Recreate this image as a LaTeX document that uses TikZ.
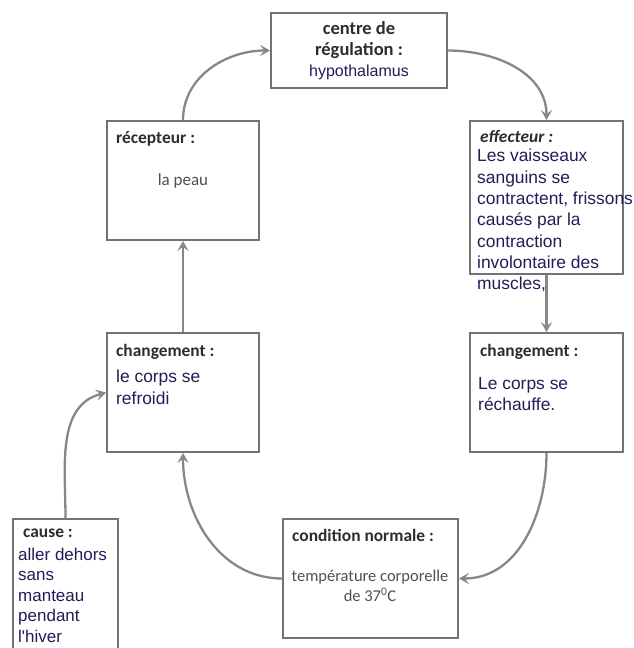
\documentclass[tikz,border=0pt]{standalone}
\usepackage{fontspec}
\setmainfont{Carlito}
\newfontfamily\arialfont{Liberation Sans}
\usetikzlibrary{positioning,arrows.meta}
\definecolor{boxgray}{RGB}{115,115,115}
\definecolor{arrowgray}{RGB}{135,135,135}
\definecolor{headgray}{RGB}{45,45,45}
\definecolor{navy}{RGB}{32,30,88}
\definecolor{notegray}{RGB}{80,80,80}

\tikzset{
  box/.style={draw=boxgray, line width=1.8pt, rectangle, inner sep=0pt, fill=white},
  arr/.style={draw=arrowgray, line width=2.3pt, -{Stealth[length=10pt,width=11pt,inset=4pt]}},
  head/.style={font=\fontsize{17.4}{20}\selectfont\bfseries, text=headgray, inner sep=0pt, anchor=north west},
  body/.style={font=\arialfont\fontsize{17.4}{21.3}\selectfont, text=navy, inner sep=0pt, anchor=north west, align=left},
  note/.style={font=\fontsize{17}{20}\selectfont, text=notegray, inner sep=0pt, align=center},
}

\begin{document}
\begin{tikzpicture}[x=1pt, y=1pt]
    \useasboundingbox (0,0) rectangle (634,-648);
    \clip (0,0) rectangle (634,-648);
    % boxes
    \node[box, minimum width=176pt, minimum height=75pt] (centre) at (359,-50.5) {};
    \node[box, minimum width=152pt, minimum height=119pt] (recep) at (183,-180.5) {};
    \node[box, minimum width=153pt, minimum height=153pt] (effect) at (546.5,-197.5) {};
    \node[box, minimum width=153pt, minimum height=119pt] (chgR) at (546.5,-392.5) {};
    \node[box, minimum width=152pt, minimum height=119pt] (chgL) at (183,-392.5) {};
    \node[box, minimum width=175pt, minimum height=119pt] (cond) at (370.5,-578.5) {};
    \node[box, minimum width=105pt, minimum height=141pt] (cause) at (65.5,-589.5) {};
    % arrows
    \draw[arr] (recep.north) to[out=90, in=180] (centre.west);
    \draw[arr] (centre.east) to[out=0, in=90] (effect.north);
    \draw[arr] (effect.south) -- (chgR.north);
    \draw[arr] (chgR.south) to[out=-90, in=0] (cond.east);
    \draw[arr] (cond.west) to[out=180, in=-90] (chgL.south);
    \draw[arr] (chgL.north) -- (recep.south);
    \draw[arr] (cause.north) to[out=90, in=195] (chgL.west);
    % texts
    \node[note, font=\fontsize{18.5}{21}\selectfont] (centre-txt) at (359,-51) {{\bfseries\color{headgray}centre de}\\{\bfseries\color{headgray}régulation :}\\{\arialfont\fontsize{16}{21}\selectfont\color{navy}hypothalamus}};
    \node[head] (recep-head) at (116,-131) {récepteur :};
    \node[note] (recep-txt) at (183,-181) {la peau};
    \node[head, font=\fontsize{17.4}{20}\selectfont\bfseries\itshape] (effect-head) at (480,-130) {effecteur :};
    \node[body] (effect-txt) at (477,-149) {Les vaisseaux\\sanguins se\\contractent, frissons\\causés par la\\contraction\\involontaire des\\muscles,};
    \node[head] (chgR-head) at (480,-344) {changement :};
    \node[body] (chgR-txt) at (478,-377) {Le corps se\\réchauffe.};
    \node[head] (chgL-head) at (116,-344) {changement :};
    \node[body] (chgL-txt) at (116,-370) {le corps se\\refroidi};
    \node[head] (cause-head) at (23,-529) {cause :};
    \node[body, font=\arialfont\fontsize{17}{20.4}\selectfont] (cause-txt) at (18,-548) {aller dehors\\sans\\manteau\\pendant\\l'hiver};
    \node[head] (cond-head) at (292,-529) {condition normale :};
    \node[note, font=\fontsize{16.5}{20}\selectfont] (cond-txt) at (370,-586) {température corporelle\\de 37\textsuperscript{0}C};
\end{tikzpicture}
\end{document}
